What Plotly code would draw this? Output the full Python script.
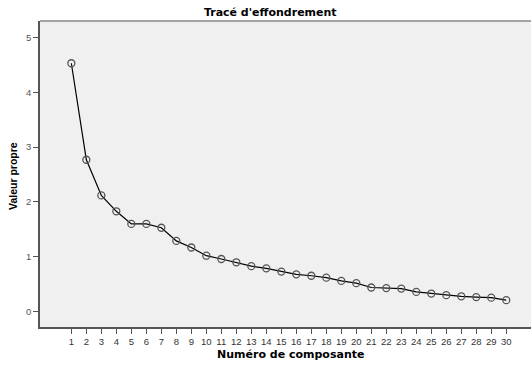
import plotly.graph_objects as go

composantes = list(range(1, 31))
valeurs_propres = [4.53, 2.77, 2.12, 1.83, 1.60, 1.60, 1.53, 1.29, 1.17, 1.02,
                   0.96, 0.90, 0.83, 0.79, 0.73, 0.68, 0.655, 0.62, 0.56, 0.52,
                   0.44, 0.43, 0.42, 0.36, 0.33, 0.30, 0.28, 0.265, 0.255, 0.21]
y_ticks = [0, 1, 2, 3, 4, 5]

fig = go.Figure()
fig.add_trace(go.Scatter(
    x=composantes, y=valeurs_propres, mode="lines+markers",
    line=dict(color="#000000", width=1.2),
    marker=dict(symbol="circle-open", size=7, color="#555555", line=dict(width=1.3, color="#555555")),
    showlegend=False,
))

fig.update_layout(
    width=531, height=366,
    margin=dict(l=40, r=0, t=21, b=39, autoexpand=False),
    paper_bgcolor="white", plot_bgcolor="#f0f0f0",
    font=dict(family="Liberation Sans, Arial, sans-serif", color="#000000"),
    title=dict(text="<b>Tracé d'effondrement</b>", x=0.509, xanchor="center",
               y=0.967, yanchor="middle", yref="container",
               font=dict(size=11, family="DejaVu Sans", color="#000000")),
    xaxis=dict(
        range=[-1.09, 31.65], tickmode="array", tickvals=composantes,
        ticktext=[str(c) for c in composantes], automargin=False,
        showgrid=False, zeroline=False, showline=True, linecolor="#555555", linewidth=1.5,
        ticks="outside", ticklen=5, tickcolor="#555555", tickwidth=1,
        tickfont=dict(size=9.5, color="#333333"),
    ),
    yaxis=dict(
        range=[-0.28, 5.30], tickmode="array", tickvals=y_ticks, automargin=False,
        showgrid=False, zeroline=False, showline=True, linecolor="#555555", linewidth=1.5,
        ticks="outside", ticklen=5, tickcolor="#555555", tickwidth=1,
        tickfont=dict(size=9.5, color="#555555"),
    ),
    shapes=[dict(type="line", xref="paper", yref="paper", x0=0, x1=1, y0=1, y1=1,
                 line=dict(color="#888888", width=1.5))],
    annotations=[
        dict(text="<b>Numéro de composante</b>", xref="paper", yref="paper",
             x=(290 - 40) / 491, y=(327 - 354) / 306, xanchor="center", yanchor="middle",
             showarrow=False, font=dict(size=11, family="DejaVu Sans", color="#000000")),
        dict(text="<b>Valeur propre</b>", xref="paper", yref="paper",
             x=(13 - 40) / 491, y=(327 - 176) / 306, xanchor="center", yanchor="middle",
             textangle=-90, showarrow=False, font=dict(size=10.5, color="#000000")),
    ],
)

fig.write_html("out.html", post_script="document.body.style.margin='0';",
               config={"displayModeBar": False})
